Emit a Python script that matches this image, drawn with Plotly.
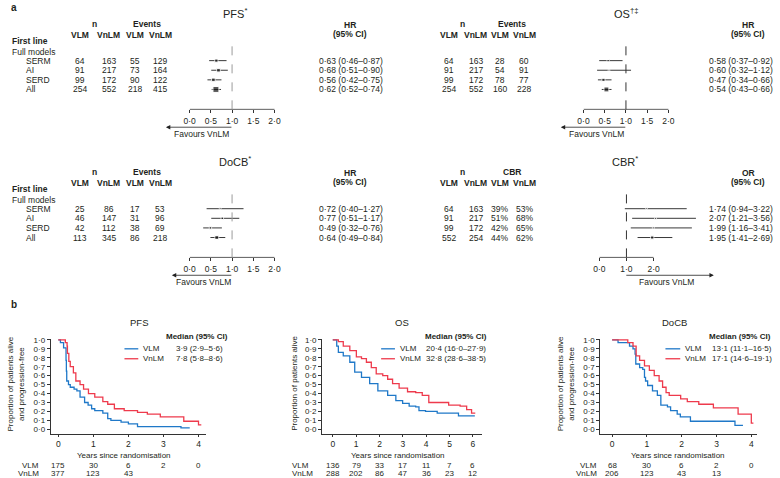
import plotly.graph_objects as go
import math

W, H = 780, 478
FONT = "Liberation Sans, Arial, sans-serif"
TXT = "#231f20"
BLUE = "#1f78c8"
RED = "#ee3a4c"

def X(px):
    return px / W

def Y(py):
    return 1 - py / H

def dot(v, d=2):
    return f"{v:.{d}f}".replace(".", "·")

# ---------------- Panel a data ----------------
groups = ["SERM", "AI", "SERD", "All"]

pfs_n_vlm = [64, 91, 99, 254]
pfs_n_vnlm = [163, 217, 172, 552]
pfs_ev_vlm = [55, 73, 90, 218]
pfs_ev_vnlm = [129, 164, 122, 415]
pfs_hr = [0.63, 0.68, 0.56, 0.62]
pfs_lo = [0.46, 0.51, 0.42, 0.52]
pfs_hi = [0.87, 0.90, 0.75, 0.74]

os_n_vlm = [64, 91, 99, 254]
os_n_vnlm = [163, 217, 172, 552]
os_ev_vlm = [28, 54, 78, 160]
os_ev_vnlm = [60, 91, 77, 228]
os_hr = [0.58, 0.60, 0.47, 0.54]
os_lo = [0.37, 0.32, 0.34, 0.43]
os_hi = [0.92, 1.12, 0.66, 0.66]

docb_n_vlm = [25, 46, 42, 113]
docb_n_vnlm = [86, 147, 112, 345]
docb_ev_vlm = [17, 31, 38, 86]
docb_ev_vnlm = [53, 96, 69, 218]
docb_hr = [0.72, 0.77, 0.49, 0.64]
docb_lo = [0.40, 0.51, 0.32, 0.49]
docb_hi = [1.27, 1.17, 0.76, 0.84]

cbr_n_vlm = [64, 91, 99, 552]
cbr_n_vnlm = [163, 217, 172, 254]
cbr_vlm = ["39%", "51%", "42%", "44%"]
cbr_vnlm = ["53%", "68%", "65%", "62%"]
cbr_or = [1.74, 2.07, 1.99, 1.95]
cbr_lo = [0.94, 1.21, 1.16, 1.41]
cbr_hi = [3.22, 3.56, 3.41, 2.69]

hr_ticks = [0.0, 0.5, 1.0, 1.5, 2.0]
or_ticks = [0.0, 1.0, 2.0]

# ---------------- Panel b data ----------------
pfs_vlm_t = [0, 0.06, 0.15, 0.22, 0.23, 0.24, 0.29, 0.34, 0.45, 0.53, 0.62, 0.75, 0.85, 0.95, 1.04, 1.27, 1.41, 1.5, 1.79, 2.0, 2.26, 3.5, 3.75]
pfs_vlm_s = [1.0, 0.97, 0.91, 0.77, 0.65, 0.54, 0.50, 0.47, 0.45, 0.43, 0.36, 0.30, 0.27, 0.23, 0.21, 0.18, 0.12, 0.10, 0.08, 0.06, 0.03, 0.015, 0.015]
pfs_vnlm_t = [0, 0.2, 0.25, 0.26, 0.3, 0.34, 0.43, 0.5, 0.62, 0.72, 0.86, 1.04, 1.27, 1.41, 1.6, 1.88, 2.26, 2.54, 2.91, 3.58, 4.0, 4.08]
pfs_vnlm_s = [1.0, 0.97, 0.93, 0.85, 0.76, 0.70, 0.63, 0.54, 0.50, 0.45, 0.40, 0.36, 0.31, 0.28, 0.23, 0.21, 0.19, 0.17, 0.14, 0.09, 0.05, 0.05]
pfs_risk_t = [0, 1, 2, 3, 4]
pfs_risk_vlm = ["175", "30", "6", "2", "0"]
pfs_risk_vnlm = ["377", "123", "43", "", ""]

os_vlm_t = [0, 0.17, 0.24, 0.45, 0.73, 0.94, 1.23, 1.58, 1.93, 2.35, 2.7, 2.99, 3.27, 3.55, 3.69, 3.97, 4.47, 5.38, 6.08]
os_vlm_s = [1.0, 0.93, 0.86, 0.82, 0.75, 0.64, 0.58, 0.51, 0.43, 0.38, 0.32, 0.29, 0.26, 0.25, 0.21, 0.20, 0.18, 0.15, 0.15]
os_vnlm_t = [0, 0.24, 0.45, 0.73, 1.01, 1.23, 1.44, 1.65, 1.86, 2.14, 2.35, 2.56, 2.84, 3.2, 3.55, 3.83, 4.11, 4.96, 5.45, 5.73, 5.94, 6.1]
os_vnlm_s = [1.0, 0.98, 0.93, 0.88, 0.81, 0.79, 0.75, 0.69, 0.62, 0.60, 0.56, 0.51, 0.46, 0.42, 0.41, 0.38, 0.30, 0.27, 0.26, 0.22, 0.18, 0.18]
os_risk_t = [0, 1, 2, 3, 4, 5, 6]
os_risk_vlm = ["136", "79", "33", "17", "11", "7", "6"]
os_risk_vnlm = ["288", "202", "86", "47", "36", "23", "12"]

docb_vlm_t = [0, 0.17, 0.5, 0.6, 0.66, 0.68, 0.79, 0.88, 0.93, 0.96, 1.02, 1.16, 1.3, 1.4, 1.59, 1.68, 1.87, 1.96, 2.25, 3.53, 3.76]
docb_vlm_s = [1.0, 0.97, 0.93, 0.90, 0.84, 0.73, 0.69, 0.67, 0.58, 0.54, 0.49, 0.43, 0.38, 0.27, 0.25, 0.21, 0.17, 0.14, 0.09, 0.045, 0.045]
docb_vnlm_t = [0, 0.45, 0.6, 0.69, 0.79, 0.93, 1.07, 1.21, 1.35, 1.45, 1.55, 1.64, 1.97, 2.16, 2.49, 2.91, 3.62, 4.0, 4.06]
docb_vnlm_s = [1.0, 0.97, 0.93, 0.82, 0.77, 0.71, 0.66, 0.60, 0.54, 0.47, 0.41, 0.38, 0.34, 0.31, 0.28, 0.24, 0.17, 0.07, 0.07]
docb_risk_t = [0, 1, 2, 3, 4]
docb_risk_vlm = ["68", "30", "6", "2", "0"]
docb_risk_vnlm = ["206", "123", "43", "13", ""]

km_yticks = [0.0, 0.1, 0.2, 0.3, 0.4, 0.5, 0.6, 0.7, 0.8, 0.9, 1.0]

fig = go.Figure()
annotations = []
shapes = []
layout = {}
TS = 8.5  # forest table text size


def ann(text, px, py, size=8, anchor="center", bold=False, color=TXT, **kw):
    if bold:
        text = f"<b>{text}</b>"
    d = dict(text=text, x=X(px), y=Y(py), xref="paper", yref="paper",
             xanchor=anchor, yanchor="middle", showarrow=False,
             font=dict(size=size, color=color, family=FONT))
    d.update(kw)
    annotations.append(d)


ann("a", 3, 5, size=10, anchor="left", bold=True)
ann("b", 3, 303, size=10, anchor="left", bold=True)

forest = [
    dict(title="PFS<sup>*</sup>", tx=232, dy=0, x0=186, ppu=43, xmax=2.05, ticks=hr_ticks,
         cols=[75, 104, 131, 156], ncol=89.5, ecol=143, elab="Events", slab="HR", sx=348,
         sl=315, sanchor="left",
         c1=pfs_n_vlm, c2=pfs_n_vnlm, c3=pfs_ev_vlm, c4=pfs_ev_vnlm,
         est=pfs_hr, lo=pfs_lo, hi=pfs_hi, dash="#9a9a9a", labels=True,
         head=162, tail=229, ftx=198),
    dict(title="OS<sup>†‡</sup>", tx=628, dy=0, x0=585, ppu=43, xmax=2.05, ticks=hr_ticks,
         cols=[449, 476, 500, 525], ncol=462, ecol=513, elab="Events", slab="HR", sx=752,
         sl=779, sanchor="right",
         c1=os_n_vlm, c2=os_n_vnlm, c3=os_ev_vlm, c4=os_ev_vnlm,
         est=os_hr, lo=os_lo, hi=os_hi, dash="#333333", labels=False,
         head=562, tail=628, ftx=598),
    dict(title="DoCB<sup>*</sup>", tx=232, dy=149, x0=186, ppu=43, xmax=2.05, ticks=hr_ticks,
         cols=[75, 104, 131, 156], ncol=89.5, ecol=143, elab="Events", slab="HR", sx=348,
         sl=315, sanchor="left",
         c1=docb_n_vlm, c2=docb_n_vnlm, c3=docb_ev_vlm, c4=docb_ev_vnlm,
         est=docb_hr, lo=docb_lo, hi=docb_hi, dash="#9a9a9a", labels=True,
         head=168, tail=229, ftx=200),
    dict(title="CBR<sup>*</sup>", tx=627, dy=149, x0=601, ppu=27.5, xmax=3.7, ticks=or_ticks,
         cols=[449, 476, 500, 525], ncol=462, ecol=513, elab="CBR", slab="OR", sx=752,
         sl=779, sanchor="right",
         c1=cbr_n_vlm, c2=cbr_n_vnlm, c3=cbr_vlm, c4=cbr_vnlm,
         est=cbr_or, lo=cbr_lo, hi=cbr_hi, dash="#333333", labels=False,
         head=717, tail=628, ftx=669),
]

row_py = [58, 67.67, 77.33, 87]
row_step = 9.67
top_py, bot_py = 42, 107

for i, f in enumerate(forest):
    k = i + 1
    xid = "x" if k == 1 else f"x{k}"
    yid = "y" if k == 1 else f"y{k}"
    xkey = "xaxis" if k == 1 else f"xaxis{k}"
    ykey = "yaxis" if k == 1 else f"yaxis{k}"
    dy = f["dy"]
    y_top = -(row_py[0] - top_py) / row_step
    y_bot = 3 + (bot_py - row_py[3]) / row_step
    layout[xkey] = dict(domain=[X(f["x0"]), X(f["x0"] + f["ppu"] * f["xmax"])], range=[0, f["xmax"]],
                        anchor=yid, showgrid=False, zeroline=False, showline=False,
                        ticks="outside", ticklen=3, tickwidth=0.8, tickcolor="#333",
                        tickvals=f["ticks"], ticktext=[dot(v, 1) for v in f["ticks"]],
                        tickfont=dict(size=8.5, color=TXT, family=FONT))
    layout[ykey] = dict(domain=[Y(bot_py + dy), Y(top_py + dy)], range=[y_bot, y_top],
                        anchor=xid, visible=False)
    shapes.append(dict(type="line", xref=xid, yref=f"{yid} domain", x0=f["ticks"][0], x1=f["ticks"][-1],
                       y0=0, y1=0, line=dict(color="#333", width=0.8)))
    shapes.append(dict(type="line", xref=xid, yref=f"{yid} domain", x0=1, x1=1, y0=0, y1=1,
                       line=dict(color=f["dash"], width=1, dash="dash")))
    xs, ys = [], []
    for j in range(len(groups)):
        xs += [f["lo"][j], f["hi"][j], None]
        ys += [j, j, None]
    fig.add_trace(go.Scatter(x=xs, y=ys, mode="lines", line=dict(color="#222", width=0.9),
                             xaxis=xid, yaxis=yid, showlegend=False, hoverinfo="skip"))
    sizes = [max(1.6, min(7, 2.1 / math.log(h / l))) for l, h in zip(f["lo"], f["hi"])]
    fig.add_trace(go.Scatter(x=f["est"], y=list(range(len(groups))), mode="markers",
                             marker=dict(symbol="square", size=sizes, color="#111"),
                             xaxis=xid, yaxis=yid, showlegend=False, cliponaxis=False))
    ann(f["title"], f["tx"], 10 + dy, size=11)
    ann("n", f["ncol"], 21 + dy, size=TS, bold=True)
    ann(f["elab"], f["ecol"], 21 + dy, size=TS, bold=True)
    for c, lab in zip(f["cols"], ["VLM", "VnLM", "VLM", "VnLM"]):
        ann(lab, c, 32 + dy, size=TS, bold=True)
    ann(f["slab"], f["sx"], 22 + dy, size=TS, bold=True)
    ann("(95% CI)", f["sx"], 31 + dy, size=TS, bold=True)
    if f["labels"]:
        ann("First line", 4, 38 + dy, size=TS, anchor="left", bold=True)
        ann("Full models", 4, 49 + dy, size=TS, anchor="left")
    for j, g in enumerate(groups):
        py = row_py[j] + dy
        if f["labels"]:
            ann(g, 18, py, size=TS, anchor="left")
        for c, arr in zip(f["cols"], [f["c1"], f["c2"], f["c3"], f["c4"]]):
            ann(str(arr[j]), c, py, size=TS)
        ann(f"{dot(f['est'][j])} ({dot(f['lo'][j])}–{dot(f['hi'][j])})", f["sl"], py,
            size=TS, anchor=f["sanchor"])
    annotations.append(dict(text="", x=X(f["head"]), y=Y(125 + dy), xref="paper", yref="paper",
                            showarrow=True, ax=f["tail"] - f["head"], ay=0, axref="pixel", ayref="pixel",
                            arrowhead=2, arrowsize=1.1, arrowwidth=0.8, arrowcolor="#222"))
    ann("Favours VnLM", f["ftx"], 131.5 + dy, size=TS)

# ---------------- KM panels ----------------
km = [
    dict(title="PFS", tx=135, x0=53, ppu=35.5, xr=[-0.22, 4.2], xt=[0, 1, 2, 3, 4],
         ytitle="Proportion of patients alive<br>and progression-free", ytx=10,
         t1=pfs_vlm_t, s1=pfs_vlm_s, t2=pfs_vnlm_t, s2=pfs_vnlm_s,
         m1="3·9 (2·9–5·6)", m2="7·8 (5·8–8·6)", mh=160, l0=120, l1=134, lt=137, mv=170,
         rt=pfs_risk_t, r1=pfs_risk_vlm, r2=pfs_risk_vnlm, rl=35, ranchor="right", xtx=120),
    dict(title="OS", tx=401, x0=331, ppu=23.67, xr=[-0.46, 6.38], xt=[0, 1, 2, 3, 4, 5, 6],
         ytitle="Proportion of patients alive", ytx=292,
         t1=os_vlm_t, s1=os_vlm_s, t2=os_vnlm_t, s2=os_vnlm_s,
         m1="20·4 (16·0–27·9)", m2="32·8 (28·6–38·5)", mh=422, l0=380, l1=394, lt=397, mv=423,
         rt=os_risk_t, r1=os_risk_vlm, r2=os_risk_vnlm, rl=288, ranchor="left", xtx=397),
    dict(title="DoCB", tx=677, x0=614, ppu=35.25, xr=[-0.34, 4.15], xt=[0, 1, 2, 3, 4],
         ytitle="Proportion of patients alive<br>and progression-free", ytx=567,
         t1=docb_vlm_t, s1=docb_vlm_s, t2=docb_vnlm_t, s2=docb_vnlm_s,
         m1="13·1 (11·1–16·5)", m2="17·1 (14·6–19·1)", mh=710, l0=668, l1=683, lt=686, mv=713,
         rt=docb_risk_t, r1=docb_risk_vlm, r2=docb_risk_vnlm, rl=601, ranchor="right", xtx=681),
]

y_lo, y_hi = -0.05, 1.01
y0_py, ppu_y = 429, 90
risk_py = [465.5, 473]

for i, p in enumerate(km):
    k = i + 5
    xid, yid = f"x{k}", f"y{k}"
    x_left = p["x0"] + p["xr"][0] * p["ppu"]
    x_right = p["x0"] + p["xr"][1] * p["ppu"]
    layout[f"xaxis{k}"] = dict(domain=[X(x_left), X(x_right)], range=p["xr"], anchor=yid,
                               showgrid=False, zeroline=False, showline=True, linecolor="#333", linewidth=0.8,
                               ticks="outside", ticklen=2, tickwidth=0.8, tickcolor="#333",
                               tickvals=p["xt"], ticktext=[str(v) for v in p["xt"]],
                               tickfont=dict(size=8.5, color=TXT, family=FONT))
    layout[f"yaxis{k}"] = dict(domain=[Y(y0_py - y_lo * ppu_y), Y(y0_py - y_hi * ppu_y)], range=[y_lo, y_hi],
                               anchor=xid, showgrid=False, zeroline=False, showline=True, linecolor="#333",
                               linewidth=0.8, ticks="outside", ticklen=3, tickwidth=0.8, tickcolor="#333",
                               tickvals=km_yticks, ticktext=[dot(v, 1) for v in km_yticks],
                               tickfont=dict(size=8, color=TXT, family=FONT))
    fig.add_trace(go.Scatter(x=p["t1"], y=p["s1"], mode="lines", line=dict(color=BLUE, width=1.3, shape="hv"),
                             xaxis=xid, yaxis=yid, showlegend=False, name="VLM"))
    fig.add_trace(go.Scatter(x=p["t2"], y=p["s2"], mode="lines", line=dict(color=RED, width=1.3, shape="hv"),
                             xaxis=xid, yaxis=yid, showlegend=False, name="VnLM"))
    ann(p["title"], p["tx"], 322, size=9.5)
    ann("Median (95% CI)", p["mh"], 336, anchor="left", bold=True)
    for py, col, lab, med in [(348, BLUE, "VLM", p["m1"]), (358, RED, "VnLM", p["m2"])]:
        shapes.append(dict(type="line", xref="paper", yref="paper", x0=X(p["l0"]), x1=X(p["l1"]),
                           y0=Y(py), y1=Y(py), line=dict(color=col, width=1.3)))
        ann(lab, p["lt"], py, anchor="left")
        ann(med, p["mv"], py, anchor="left")
    ann(p["ytitle"], p["ytx"], 383, textangle=-90)
    ann("Years since randomisation", p["xtx"], 455)
    ann("VLM", p["rl"], risk_py[0], anchor=p["ranchor"])
    ann("VnLM", p["rl"], risk_py[1], anchor=p["ranchor"])
    for t, v1, v2 in zip(p["rt"], p["r1"], p["r2"]):
        for py, v in [(risk_py[0], v1), (risk_py[1], v2)]:
            if v:
                annotations.append(dict(text=v, x=t, y=Y(py), xref=xid, yref="paper", showarrow=False,
                                        xanchor="center", yanchor="middle",
                                        font=dict(size=8, color=TXT, family=FONT)))

fig.update_layout(width=W, height=H, margin=dict(l=0, r=0, t=0, b=0),
                  paper_bgcolor="white", plot_bgcolor="rgba(0,0,0,0)",
                  font=dict(family=FONT, size=8, color=TXT),
                  annotations=annotations, shapes=shapes, showlegend=False, **layout)

fig.write_html("out.html", config={"displayModeBar": False},
               post_script="document.body.style.margin='0';document.body.style.overflow='hidden';")
